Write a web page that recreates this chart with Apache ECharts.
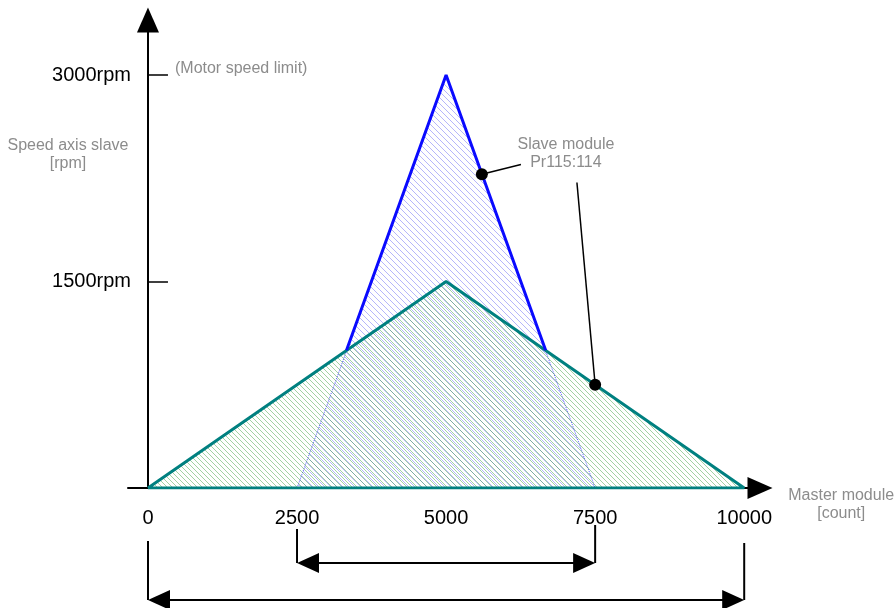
<!DOCTYPE html>
<html>
<head>
<meta charset="utf-8">
<script src="https://cdn.jsdelivr.net/npm/echarts@6/dist/echarts.min.js"></script>
<style>
  html, body { margin: 0; padding: 0; background: #fff; }
  #chart { width: 895px; height: 608px; }
</style>
</head>
<body>
<div id="chart"></div>
<script>
// tick labels
var xTicks = [0, 2500, 5000, 7500, 10000];
var yTicks = [1500, 3000];

// slave profiles (master count, slave rpm)
var fastProfile = [[2500, 0], [5000, 3000], [7500, 0]];
var fastVisible = [[3330, 1000], [5000, 3000], [6670, 1000]]; // part of the blue edge above green area
var slowProfile = [[0, 0], [5000, 1500], [10000, 0], [0, 0]];
var calloutPoints = [[5600, 2280], [7500, 750]];

// dimension arrows under the axis
var spanShort = [2500, 7500];
var spanLong = [0, 10000];

var FONT = '"Liberation Sans", Arial, sans-serif';
var GREY = '#8c8c8c';

function hatch(color, gap) {
    var c = document.createElement('canvas');
    c.width = gap; c.height = gap;
    var ctx = c.getContext('2d');
    ctx.strokeStyle = color;
    ctx.lineWidth = 1;
    ctx.beginPath();
    ctx.moveTo(-1, -1); ctx.lineTo(gap + 1, gap + 1);
    ctx.stroke();
    return c;
}

var myChart = echarts.init(document.getElementById('chart'));

var option = {
    animation: false,
    grid: { left: 128, right: 135, top: 20, bottom: 120 },
    xAxis: {
        type: 'value', min: -335, max: 10265,
        splitLine: { show: false },
        axisLine: { lineStyle: { color: '#000', width: 2 }, symbol: ['none', 'triangle'], symbolSize: [22, 25] },
        axisTick: { show: false },
        axisLabel: { customValues: xTicks, color: '#000', fontSize: 20, fontFamily: FONT, margin: 20,
            formatter: function (v) { return String(v); } }
    },
    yAxis: {
        type: 'value', min: 0, max: 3400,
        splitLine: { show: false },
        axisLine: { lineStyle: { color: '#000', width: 2 }, symbol: ['none', 'triangle'], symbolSize: [22, 25] },
        axisTick: { customValues: yTicks, inside: true, length: 20, lineStyle: { color: '#000', width: 1.5 } },
        axisLabel: { customValues: yTicks, color: '#000', fontSize: 20, fontFamily: FONT, margin: -3,
            formatter: function (v) { return v + 'rpm'; } }
    },
    series: [
        {
            type: 'line', data: fastProfile, symbol: 'none', z: 2,
            lineStyle: { color: '#5a5aff', width: 1, type: 'dotted' },
            areaStyle: { color: { image: hatch('rgba(110,110,245,0.5)', 6), repeat: 'repeat' }, opacity: 1 }
        },
        {
            type: 'line', data: slowProfile, symbol: 'none', z: 3,
            lineStyle: { color: '#008080', width: 3 },
            areaStyle: { color: { image: hatch('rgba(70,165,70,0.5)', 5), repeat: 'repeat' }, opacity: 1 }
        },
        {
            type: 'line', data: fastVisible, symbol: 'none', z: 4,
            lineStyle: { color: '#0a0aff', width: 3 }
        },
        {
            type: 'scatter', data: calloutPoints, symbolSize: 12, z: 6,
            itemStyle: { color: '#000', opacity: 1 }
        }
    ]
};
myChart.setOption(option);

function px(p) { return myChart.convertToPixel({ gridIndex: 0 }, p); }

function dimArrow(span, yOff, startOff, endOff) {
    var a = px([span[0], 0]), b = px([span[1], 0]);
    var y = a[1] + yOff;
    var els = [];
    els.push({ type: 'line', shape: { x1: a[0], y1: a[1] + startOff, x2: a[0], y2: y }, style: { stroke: '#000', lineWidth: 2 } });
    els.push({ type: 'line', shape: { x1: b[0], y1: b[1] + endOff, x2: b[0], y2: y }, style: { stroke: '#000', lineWidth: 2 } });
    els.push({ type: 'line', shape: { x1: a[0] + 10, y1: y, x2: b[0] - 10, y2: y }, style: { stroke: '#000', lineWidth: 2 } });
    els.push({ type: 'polygon', shape: { points: [[a[0], y], [a[0] + 22, y - 10], [a[0] + 22, y + 10]] }, style: { fill: '#000' } });
    els.push({ type: 'polygon', shape: { points: [[b[0], y], [b[0] - 22, y - 10], [b[0] - 22, y + 10]] }, style: { fill: '#000' } });
    return els;
}

var origin = px([0, 0]);
var top3000 = px([0, 3000]);
var xEnd = px([10000, 0]);
var label = px([7010, 2430]);
var d1 = px(calloutPoints[0]), d2 = px(calloutPoints[1]);

var graphics = [].concat(
    dimArrow(spanShort, 75, 41, 37),
    dimArrow(spanLong, 112, 53, 55),
    [
        { type: 'line', shape: { x1: d1[0], y1: d1[1], x2: label[0] - 45, y2: label[1] + 11 }, style: { stroke: '#000', lineWidth: 1.5 }, z: 5 },
        { type: 'line', shape: { x1: d2[0], y1: d2[1], x2: label[0] + 11, y2: label[1] + 29 }, style: { stroke: '#000', lineWidth: 1.5 }, z: 5 },
        { type: 'text', x: label[0], y: label[1], z: 5,
          style: { text: 'Slave module\nPr115:114', fill: GREY, font: '16px ' + FONT, align: 'center', verticalAlign: 'middle', lineHeight: 18 } },
        { type: 'text', x: top3000[0] + 27, y: top3000[1] - 6, z: 5,
          style: { text: '(Motor speed limit)', fill: GREY, font: '16px ' + FONT, align: 'left', verticalAlign: 'middle' } },
        { type: 'text', x: origin[0] - 80, y: px([0, 2420])[1], z: 5,
          style: { text: 'Speed axis slave\n[rpm]', fill: GREY, font: '16px ' + FONT, align: 'center', verticalAlign: 'middle', lineHeight: 18 } },
        { type: 'text', x: xEnd[0] + 97, y: xEnd[1] + 17, z: 5,
          style: { text: 'Master module\n[count]', fill: GREY, font: '16px ' + FONT, align: 'center', verticalAlign: 'middle', lineHeight: 18 } }
    ]
);

myChart.setOption({ graphic: graphics });
</script>
</body>
</html>
